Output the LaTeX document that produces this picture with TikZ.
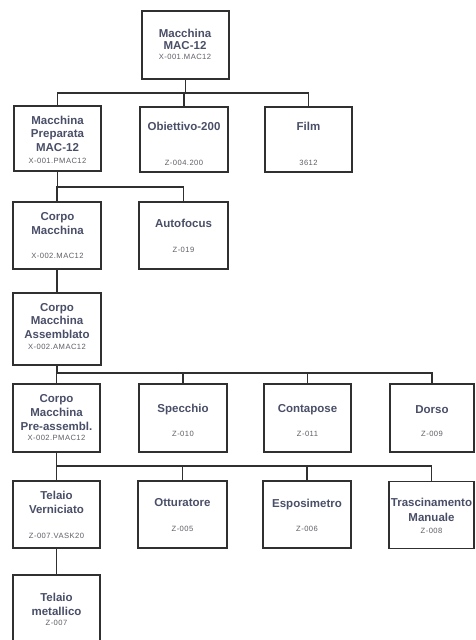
\documentclass[tikz,border=0pt]{standalone}
\usepackage{fontspec}
\setmainfont{Liberation Sans}
\definecolor{ttlc}{HTML}{4A4F68}
\definecolor{codec}{HTML}{5E5E66}
\definecolor{linec}{HTML}{303030}
\newcommand\ttl[3]{\node[title] (#1) at (#2) {#3};}
\newcommand\cod[3]{\node[codetxt] (#1) at (#2) {#3};}
\begin{document}
\begin{tikzpicture}[x=1pt,y=-1pt,
  box/.style={draw=linec, line width=1.2pt, inner sep=0pt, rectangle},
  conn/.style={draw=linec, line width=1.8pt},
  title/.style={anchor=base, inner sep=0pt, text=ttlc, font=\fontsize{11.5}{13}\selectfont\bfseries, yshift=-4pt},
  codetxt/.style={anchor=base, inner sep=0pt, text=codec, font=\fontsize{7.6}{9}\selectfont\addfontfeature{LetterSpace=6}, yshift=-2.7pt}]
\useasboundingbox[fill=white] (0,0) rectangle (475,640);
% boxes
\node[box, minimum width=87pt, minimum height=68pt] (top) at (185.5,45) {};
\node[box, minimum width=87pt, minimum height=65pt] (prep) at (57.5,138.5) {};
\node[box, minimum width=88pt, minimum height=65pt] (obj) at (184,139.5) {};
\node[box, minimum width=87pt, minimum height=65pt] (film) at (308.5,139.5) {};
\node[box, minimum width=88pt, minimum height=67pt] (corpo) at (57,235.5) {};
\node[box, minimum width=89pt, minimum height=67pt] (auto) at (183.5,235.5) {};
\node[box, minimum width=88pt, minimum height=72pt] (assem) at (57,329) {};
\node[box, minimum width=87pt, minimum height=68pt] (pre) at (56.5,418) {};
\node[box, minimum width=88pt, minimum height=68pt] (spec) at (183,418) {};
\node[box, minimum width=87pt, minimum height=68pt] (conta) at (307.5,418) {};
\node[box, minimum width=84pt, minimum height=68pt] (dorso) at (432,418) {};
\node[box, minimum width=87pt, minimum height=67pt] (telv) at (56.5,514.5) {};
\node[box, minimum width=89pt, minimum height=67pt] (ott) at (182.5,514.5) {};
\node[box, minimum width=88pt, minimum height=67pt] (espo) at (307,514.5) {};
\node[box, minimum width=85pt, minimum height=67pt] (trasc) at (431.5,515) {};
\node[box, minimum width=87pt, minimum height=67pt] (telm) at (56.5,608.5) {};
% bus coordinates
\coordinate (b1) at (0,93);
\coordinate (b2) at (0,187);
\coordinate (b4) at (0,373);
\coordinate (b5) at (0,466);
% connectors
\foreach \c in {prep,obj,film}
  \draw[conn] (top.south) |- (\c.north |- b1) -- (\c.north);
\foreach \c in {corpo,auto}
  \draw[conn] (prep.south) |- (\c.north |- b2) -- (\c.north);
\draw[conn] (corpo.south) -- (assem.north);
\foreach \c in {pre,spec,conta,dorso}
  \draw[conn] (assem.south) |- (\c.north |- b4) -- (\c.north);
\foreach \c in {telv,ott,espo,trasc}
  \draw[conn] (pre.south) |- (\c.north |- b5) -- (\c.north);
\draw[conn] (telv.south) -- (telm.north);
% texts
\ttl{t1a}{185,33}{Macchina}
\ttl{t1b}{185,45.5}{MAC-12}
\cod{c1}{185,57}{X-001.MAC12}
\ttl{t2a}{57.5,120}{Macchina}
\ttl{t2b}{57.5,133.5}{Preparata}
\ttl{t2c}{57.5,147}{MAC-12}
\cod{c2}{57.5,161}{X-001.PMAC12}
\ttl{t3}{184,126}{Obiettivo-200}
\cod{c3}{184,163}{Z-004.200}
\ttl{t4}{308.5,126}{Film}
\cod{c4}{308.5,163}{3612}
\ttl{t5a}{57.5,216}{Corpo}
\ttl{t5b}{57.5,230}{Macchina}
\cod{c5}{57.5,256}{X-002.MAC12}
\ttl{t6}{183.5,223}{Autofocus}
\cod{c6}{183.5,250}{Z-019}
\ttl{t7a}{57,307}{Corpo}
\ttl{t7b}{57,320.5}{Macchina}
\ttl{t7c}{57,334.5}{Assemblato}
\cod{c7}{57,347}{X-002.AMAC12}
\ttl{t8a}{56.5,398}{Corpo}
\ttl{t8b}{56.5,412}{Macchina}
\ttl{t8c}{56.5,426.5}{Pre-assembl.}
\cod{c8}{56.5,437.5}{X-002.PMAC12}
\ttl{t9}{183,408.5}{Specchio}
\cod{c9}{183,433.5}{Z-010}
\ttl{t10}{307.5,408.5}{Contapose}
\cod{c10}{307.5,433.5}{Z-011}
\ttl{t11}{432,409}{Dorso}
\cod{c11}{432,434}{Z-009}
\ttl{t12a}{56.5,495}{Telaio}
\ttl{t12b}{56.5,509}{Verniciato}
\cod{c12}{56.5,536}{Z-007.VASK20}
\ttl{t13}{182.5,502}{Otturatore}
\cod{c13}{182.5,529}{Z-005}
\ttl{t14}{307,503}{Esposimetro}
\cod{c14}{307,529}{Z-006}
\ttl{t15a}{431.5,502}{Trascinamento}
\ttl{t15b}{431.5,517}{Manuale}
\cod{c15}{431.5,531}{Z-008}
\ttl{t16a}{56.5,597.5}{Telaio}
\ttl{t16b}{56.5,611.5}{metallico}
\cod{c16}{56.5,623}{Z-007}
\end{tikzpicture}
\end{document}
